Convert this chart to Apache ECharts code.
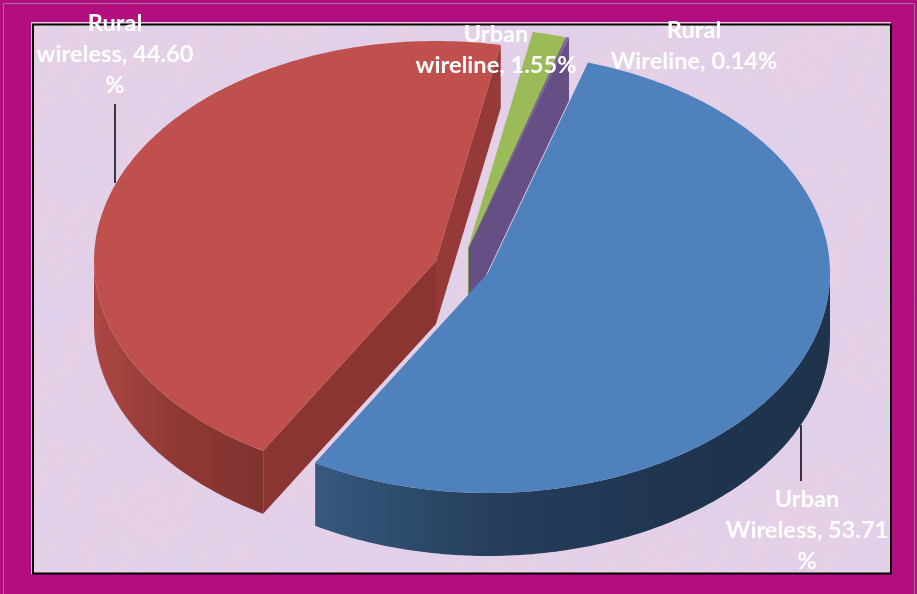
<!DOCTYPE html>
<html><head><meta charset="utf-8">
<style>html,body{margin:0;padding:0;background:#B30E80}#c{width:917px;height:594px}</style>
<script src="https://cdn.jsdelivr.net/npm/echarts@6/dist/echarts.min.js"></script>
</head><body><div id="c"></div>
<script>
const categories = ['Urban Wireless', 'Rural wireless', 'Urban wireline', 'Rural Wireline'];
const shares = [53.71, 44.60, 1.55, 0.14];
const sliceLabels = ['Urban\nWireless, 53.71\n%', 'Rural\nwireless, 44.60\n%', 'Urban\nwireline, 1.55%', 'Rural\nWireline, 0.14%'];

const START_DEG = 17, RX = 342, RY = 220, DEPTH = 63;
const layout = [
  {cx:488, cy:273, top:'#4F81BD', face:null, rim:['#36597F','#263F5C','#1F3550','#1E344C'], z:40, label:[807,530], leader:[801,425,801,481]},
  {cx:436, cy:261, top:'#C0504D', face:['#8B3532','#953A38'], rim:['#AB4744','#8F3835','#813330'], z:30, label:[115,54], leader:[115,104,115,183]},
  {cx:468, cy:248, top:'#9BBB59', face:[null,'#7A9445'], rim:null, z:10, label:[496,50]},
  {cx:469, cy:248, top:'#7F63A1', face:[null,'#654F84'], rim:null, z:20, label:[694,46]}
];

const total = shares.reduce((a, b) => a + b, 0);
const starts = [];
shares.reduce((acc, v, i) => { starts[i] = acc; return acc + v / total * 360; }, START_DEG);

function rimPoint(l, deg, dy) {
  const r = deg * Math.PI / 180;
  return [l.cx + RX * Math.sin(r), l.cy - RY * Math.cos(r) + (dy || 0)];
}
function arcPoints(l, a, b, dy) {
  const pts = [], n = Math.max(2, Math.ceil(Math.abs(b - a)));
  for (let i = 0; i <= n; i++) pts.push(rimPoint(l, a + (b - a) * i / n, dy));
  return pts;
}
function grad(stops) {
  return {type:'linear', x:0, y:0, x2:1, y2:0,
    colorStops: stops.map((c, i) => ({offset: i / (stops.length - 1), color: c}))};
}
function renderSlice(params, api) {
  const i = params.dataIndex, l = layout[i];
  const a = starts[i], b = a + api.value(0) / total * 360;
  const kids = [];
  const apex = [l.cx, l.cy], apexD = [l.cx, l.cy + DEPTH];
  const poly = (pts, fill, z2) => kids.push({type:'polygon', z2, shape:{points:pts},
    style:{fill, stroke:null}, silent:true});

  if (l.face) {
    if (l.face[0]) { const p = rimPoint(l, a), q = rimPoint(l, a, DEPTH);
      poly([apex, p, q, apexD], l.face[0], l.z + 1); }
    if (l.face[1]) { const p = rimPoint(l, b), q = rimPoint(l, b, DEPTH);
      poly([apex, p, q, apexD], l.face[1], l.z + 1); }
  }
  if (l.rim) {
    const lo = Math.max(a, 90), hi = Math.min(b, 270);
    if (hi > lo) poly(arcPoints(l, lo, hi, 0).concat(arcPoints(l, hi, lo, DEPTH)), grad(l.rim), l.z + 1);
  }
  poly([apex].concat(arcPoints(l, a, b, 0)), l.top, l.z + 2);
  return {type:'group', children:kids};
}
function renderLabels(params) {
  const i = params.dataIndex, l = layout[i], kids = [];
  if (l.leader) kids.push({type:'line', z2:90, shape:{x1:l.leader[0], y1:l.leader[1], x2:l.leader[2], y2:l.leader[3]},
    style:{stroke:'#000', lineWidth:1.5}, silent:true});
  kids.push({type:'text', z2:100, x:l.label[0], y:l.label[1], silent:true,
    style:{text:sliceLabels[i], fill:'#fff', font:'bold 23.6px Lato, "Open Sans", sans-serif',
      lineHeight:31, align:'center', verticalAlign:'middle'}});
  return {type:'group', children:kids};
}

function paper(w, h) {
  const cv = document.createElement('canvas'); cv.width = w; cv.height = h;
  const g = cv.getContext('2d'), im = g.createImageData(w, h);
  for (let y = 0, k = 0; y < h; y++) for (let x = 0; x < w; x++, k += 4) {
    const s = .6 * Math.sin(x * .031 + y * .017 + Math.sin(y * .043) * 2.1) + .6 * Math.sin(x * .013 - y * .029 + Math.sin(x * .021) * 2.7)
      + .9 * Math.sin(x * .083 + y * .061 + Math.sin(x * .037 + y * .011) * 3) + .8 * Math.sin(x * .17 - y * .13 + Math.cos(y * .09) * 3)
      + .6 * Math.sin(x * .41 + y * .37 + Math.sin(x * .19 - y * .23) * 4);
    const t = s / 3.6;
    im.data[k] = 227 + 6 * t; im.data[k + 1] = 208 - 1 * t; im.data[k + 2] = 232 - 5 * t; im.data[k + 3] = 255;
  }
  g.putImageData(im, 0, 0);
  return cv;
}

const chart = echarts.init(document.getElementById('c'), null, {renderer:'canvas'});
chart.setOption({
  animation:false,
  backgroundColor:'#B30E80',
  graphic:[
    {type:'rect', z:-10, shape:{x:3.5, y:3.5, width:911, height:600}, style:{fill:'none', stroke:'#A56D98', lineWidth:1}, silent:true},
    {type:'rect', z:-10, shape:{x:31, y:22, width:860, height:552}, style:{fill:'#E9CDE4'}, silent:true},
    {type:'image', z:-9, x:33, y:24, style:{image:paper(858, 550), x:0, y:0, width:858, height:550}, silent:true},
    {type:'rect', z:-8, shape:{x:33, y:24.5, width:858, height:549}, style:{fill:'none', stroke:'#000', lineWidth:2}, silent:true}
  ],
  series:[
    {type:'custom', coordinateSystem:'none', renderItem:renderSlice, silent:true, z:5,
      data:shares.map((v, i) => ({name:categories[i], value:[v]}))},
    {type:'custom', coordinateSystem:'none', renderItem:renderLabels, silent:true, z:6,
      data:shares.map((v, i) => ({name:categories[i], value:[v]}))}
  ]
});
</script></body></html>
